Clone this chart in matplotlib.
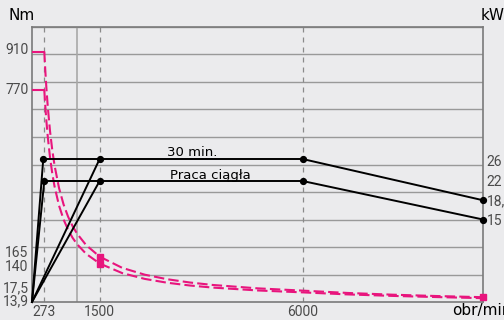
import matplotlib
matplotlib.use("Agg")
import matplotlib.pyplot as plt

# ---------------- data ----------------
rpm_curve = [273, 280, 290, 300, 320, 350, 400, 450, 500, 600, 700, 800, 900, 1000,
             1200, 1500, 2000, 2500, 3000, 3500, 4000, 5000, 6000, 7000, 8000, 9000, 10000]
torque_30min = [910, 886.8, 856.2, 827.7, 775.9, 709.4, 620.8, 551.8, 496.6, 413.8, 354.7,
                310.4, 275.9, 248.3, 206.9, 165, 124.2, 99.3, 82.8, 70.9, 62.1, 49.7, 41.4,
                32.9, 26.6, 21.6, 17.5]
torque_cont = [770, 750.4, 724.5, 700.3, 656.6, 600.3, 525.3, 466.9, 420.2, 350.2, 300.1,
               262.6, 233.4, 210.1, 175.1, 140, 105.1, 84.0, 70.0, 60.0, 52.5, 42.0, 35.0,
               27.6, 22.1, 17.8, 13.9]
torque_max_30min = 910
torque_max_cont = 770

power_30min_rpm = [0, 250, 6000, 10000]
power_30min_kw = [0, 26, 26, 18.5]
power_30min_b_rpm = [0, 1500]
power_30min_b_kw = [0, 26]
power_cont_rpm = [0, 273, 6000, 10000]
power_cont_kw = [0, 22, 22, 15]
power_cont_b_rpm = [0, 1500]
power_cont_b_kw = [0, 22]

left_ticks = [910, 770, 165, 140, 17.5, 13.9]
left_labels = ["910", "770", "165", "140", "17,5", "13,9"]
right_ticks = [26, 22, 18.5, 15]
right_labels = ["26", "22", "18,5", "15"]
x_ticks = [273, 1500, 6000]
x_labels = ["273", "1500", "6000"]

# ---------------- style ----------------
BG = "#ebebed"
PINK = "#e8157d"
GRID = "#999999"
TICKC = "#4a4a4a"
TFONT = ["Roboto", "DejaVu Sans"]
plt.rcParams["font.family"] = ["DejaVu Sans"]

fig = plt.figure(figsize=(5.04, 3.2), dpi=100, facecolor=BG)
ax = fig.add_axes([32/504, 18/320, 451/504, 275/320])
ax.set_facecolor(BG)
ax.set_xlim(0, 10000)
ax.set_ylim(0, 1000)
ax2 = ax.twinx()
ax2.set_ylim(0, 50)

# grid
for v in range(100, 1001, 100):
    ax.axhline(v, color=GRID, lw=1.0, zorder=1)
ax.axvline(1000, color="#a8a8a8", lw=1.2, zorder=1)
for v in x_ticks:
    ax.axvline(v, color="#8a8a8a", lw=0.9, ls=(0, (4, 4)), zorder=1)

for sp in ["left", "right", "bottom", "top"]:
    ax.spines[sp].set_color("#7a7a7a")
    ax.spines[sp].set_linewidth(1.2)
    ax2.spines[sp].set_visible(False)

# torque curves
ax.plot([0, rpm_curve[0]], [torque_max_30min, torque_30min[0]], color=PINK, lw=1.5, zorder=3)
ax.plot([0, rpm_curve[0]], [torque_max_cont, torque_cont[0]], color=PINK, lw=1.5, zorder=3)
ax.plot(rpm_curve, torque_30min, color=PINK, lw=1.5, ls=(0, (5, 2)), zorder=3)
ax.plot(rpm_curve, torque_cont, color=PINK, lw=1.5, ls=(0, (5, 2)), zorder=3)
ax.plot([1500, 1500], [165, 140], ls="none", marker="s", ms=4, color=PINK, zorder=4)
ax.plot([10000], [20], ls="none", marker="s", ms=5, color=PINK, zorder=4, clip_on=False)

# power curves
kw = dict(color="black", lw=1.4, zorder=5, clip_on=False)
ax2.plot(power_30min_rpm, power_30min_kw, **kw)
ax2.plot(power_30min_b_rpm, power_30min_b_kw, **kw)
ax2.plot(power_cont_rpm, power_cont_kw, **kw)
ax2.plot(power_cont_b_rpm, power_cont_b_kw, **kw)
mk = dict(ls="none", marker="o", ms=4.2, color="black", zorder=6, clip_on=False)
ax2.plot(power_30min_rpm[1:], power_30min_kw[1:], **mk)
ax2.plot(power_cont_rpm[1:], power_cont_kw[1:], **mk)
ax2.plot([1500, 1500], [26, 22], **mk)

ax2.text(3000, 26.6, "30 min.", fontsize=9.5, color="black", ha="left", va="baseline", zorder=7)
ax2.text(3050, 22.4, "Praca ciągła", fontsize=9.5, color="black", ha="left", va="baseline", zorder=7)

# ticks
ax.set_xticks([]); ax.set_yticks([]); ax2.set_yticks([])
left_off = [1, 0, 2.5, -2.5, 6.5, -2.3]
for v, lab, dy in zip(left_ticks, left_labels, left_off):
    ax.annotate(lab, xy=(0, v), xycoords=("axes fraction", "data"), xytext=(-2.5, dy),
                textcoords="offset points", ha="right", va="center", fontsize=10,
                color=TICKC, family=TFONT)
right_off = [-2, -1, -1, -1]
for v, lab, dy in zip(right_ticks, right_labels, right_off):
    ax2.annotate(lab, xy=(1, v), xycoords=("axes fraction", "data"), xytext=(2.5, dy),
                 textcoords="offset points", ha="left", va="center", fontsize=10,
                 color=TICKC, family=TFONT, annotation_clip=False)
for v, lab in zip(x_ticks, x_labels):
    ax.annotate(lab, xy=(v, 0), xycoords=("data", "axes fraction"), xytext=(0, -2.5),
                textcoords="offset points", ha="center", va="top", fontsize=10,
                color=TICKC, family=TFONT)

fig.text(8/504, 1 - 15/320, "Nm", fontsize=11, ha="left", va="center", color="black")
fig.text(481/504, 1 - 15/320, "kW", fontsize=11, ha="left", va="center", color="black")
fig.text(452/504, 1 - 311/320, "obr/min", fontsize=11, ha="left", va="center", color="black")

fig.savefig("out.png", dpi=100, facecolor=BG)
